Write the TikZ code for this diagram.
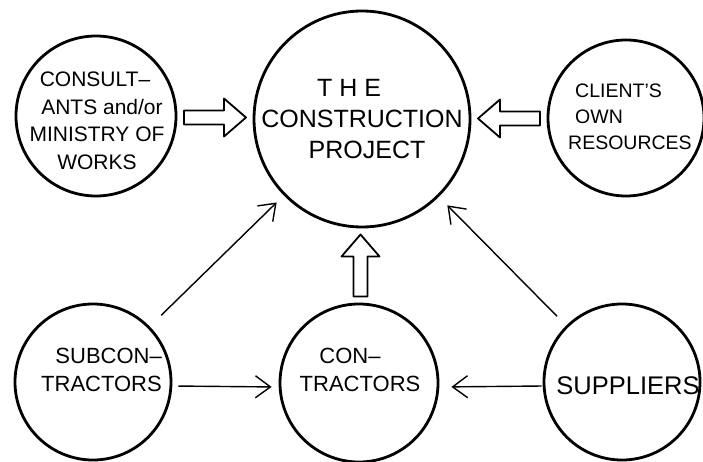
\documentclass[tikz,border=0pt]{standalone}
\usepackage{fontspec}
\setmainfont{Liberation Sans}
\usetikzlibrary{arrows.meta,calc}

\tikzset{
  ring/.style={circle,draw,line width=2.8pt,inner sep=0pt},
  bigtext/.style={font=\fontsize{25}{31}\selectfont},
  midtext/.style={font=\fontsize{21}{27.5}\selectfont},
  subtext/.style={font=\fontsize{22}{28}\selectfont},
  clienttext/.style={font=\fontsize{19.5}{26}\selectfont},
  suptext/.style={font=\fontsize{25.5}{28}\selectfont},
  feed/.style={line width=1.4pt,-{Straight Barb[length=15pt,width=22pt,line width=1.4pt]}},
  blockarrow/.pic={
    \draw[line width=1.8pt,line join=round]
      (-31pt,-7pt) -- (9pt,-7pt) -- (9pt,-19pt) -- (31pt,0pt)
      -- (9pt,19pt) -- (9pt,7pt) -- (-31pt,7pt) -- cycle;
  }
}

\begin{document}
\begin{tikzpicture}[x=1pt,y=1pt]
\useasboundingbox (0,0) rectangle (703,461);

% the circles
\node[ring,minimum size=216pt,bigtext,align=center] (proj) at (362,342)
  {T\kern7pt H\kern7pt E\hspace*{26pt}\\CONSTRUCTION\\\hspace*{10pt}PROJECT};
\node[ring,minimum size=160pt] (cons)   at (96,345) {};
\node[ring,minimum size=156pt] (client) at (626,343) {};
\node[ring,minimum size=156pt] (sub)    at (93,79) {};
\node[ring,minimum size=158pt] (contr)  at (359,78) {};
\node[ring,minimum size=156pt] (sup)    at (622,79) {};

% lettering inside the small circles
\node[midtext,align=center,inner sep=0pt] (constext) at (97,340)
  {CONSULT--\hspace*{4pt}\\\hspace*{10pt}ANTS and/or\\MINISTRY OF\\WORKS};
\node[clienttext,align=left,anchor=west,inner sep=0pt] (clienttxt) at (568,344)
  {\hspace*{7pt}CLIENT'S\\\hspace*{7pt}OWN\\RESOURCES};
\node[subtext,align=right,anchor=east,inner sep=0pt] (subtxt) at (162,91)
  {SUBCON--\\TRACTORS};
\node[subtext,align=center,inner sep=0pt] (contrtxt) at (360,91)
  {CON--\hspace*{20pt}\\TRACTORS};
\node[suptext,inner sep=0pt] (suptxt) at (628,75) {SUPPLIERS};

% hollow block arrows into the project
\pic at ($(cons.east)!0.5!(proj.west)$) {blockarrow};
\pic[rotate=180] at ($(client.west)!0.5!(proj.east)$) {blockarrow};
\pic[rotate=90] at ($(contr.north)!0.5!(proj.south)$) {blockarrow};

% thin flow arrows
\draw[feed,shorten <=16pt,shorten >=10pt] (sub) -- (proj);
\draw[feed,shorten <=13pt,shorten >=12pt] (sup) -- (proj);
\draw[feed,shorten <=6pt,shorten >=7pt] ([yshift=-4pt]sub.east) -- ([yshift=-4pt]contr.west);
\draw[feed,shorten <=1pt,shorten >=12pt] ([yshift=-4pt]sup.west) -- ([yshift=-4pt]contr.east);
\end{tikzpicture}
\end{document}
